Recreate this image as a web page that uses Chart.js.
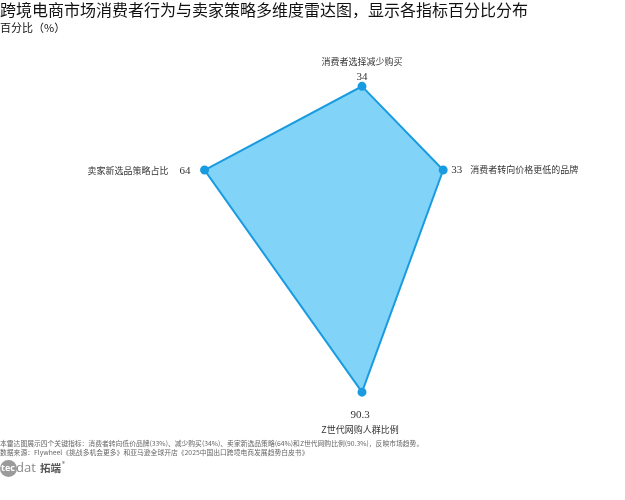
<!DOCTYPE html>
<html>
<head>
<meta charset="utf-8">
<script src="https://cdn.jsdelivr.net/npm/chart.js@4"></script>
<style>
html,body{margin:0;padding:0;background:#fff;overflow:hidden;}
#wrap{position:relative;width:625px;height:500px;overflow:hidden;}
#c{position:absolute;left:0;top:-76px;}
</style>
</head>
<body>
<div id="wrap"><canvas id="c" width="625" height="576"></canvas></div>
<script>
const categories = ['消费者选择减少购买', '消费者转向价格更低的品牌', 'Z世代网购人群比例', '卖家新选品策略占比'];
const values = [34, 33, 90.3, 64];
const valueLabels = ['34', '33', '90.3', '64'];
const titleText = '跨境电商市场消费者行为与卖家策略多维度雷达图，显示各指标百分比分布';
const subtitleText = '百分比（%）';
const noteLines = [
  '本雷达图展示四个关键指标：消费者转向低价品牌(33%)、减少购买(34%)、卖家新选品策略(64%)和Z世代网购比例(90.3%)，反映市场趋势。',
  '数据来源：Flywheel《挑战多机会更多》和亚马逊全球开店《2025中国出口跨境电商发展趋势白皮书》'
];

const CJK = '"Noto Sans CJK SC", "Noto Sans", sans-serif';
const SERIF = '"Liberation Serif", "DejaVu Serif", serif';
const OFF = 76; // canvas is shifted up by this many pixels

// label placement per point: [valueDx, valueDy, valueAlign, catDx, catDy, catAlign]
const labelPlace = [
  [0, -9, 'center', 0, -25, 'center'],
  [8, 0, 'left', 27, 0, 'left'],
  [-2, 23, 'center', -2, 37, 'center'],
  [-14, 1, 'right', -36, 1, 'right']
];

const textPlugin = {
  id: 'texts',
  afterDatasetsDraw(chart) {
    const ctx = chart.ctx;
    const meta = chart.getDatasetMeta(0);
    ctx.save();
    ctx.textBaseline = 'middle';
    meta.data.forEach((pt, i) => {
      const p = labelPlace[i];
      ctx.fillStyle = '#333';
      ctx.font = '11px ' + SERIF;
      ctx.textAlign = p[2];
      ctx.fillText(valueLabels[i], pt.x + p[0], pt.y + p[1]);
      ctx.font = '9px ' + CJK;
      ctx.textAlign = p[5];
      ctx.fillText(categories[i], pt.x + p[3], pt.y + p[4]);
    });
    // title & subtitle
    ctx.textAlign = 'left';
    ctx.fillStyle = '#111';
    ctx.font = '16px ' + CJK;
    ctx.fillText(titleText, 0, OFF + 10);
    ctx.font = '11px ' + CJK;
    ctx.fillText(subtitleText, 0, OFF + 28);
    // notes
    ctx.fillStyle = '#666';
    ctx.font = '6.8px ' + CJK;
    ctx.fillText(noteLines[0], 0, OFF + 443);
    ctx.fillText(noteLines[1], 0, OFF + 452);
    // logo
    ctx.fillStyle = '#9b9b9b';
    ctx.beginPath();
    ctx.arc(8.5, OFF + 468.5, 8.5, 0, Math.PI * 2);
    ctx.fill();
    ctx.fillStyle = '#fff';
    ctx.font = 'bold 9px "Open Sans", sans-serif';
    ctx.fillText('tec', 1, OFF + 468.5);
    ctx.fillStyle = '#8a8a8a';
    ctx.font = '13px "Open Sans", sans-serif';
    ctx.fillText('dat', 16, OFF + 468);
    ctx.fillStyle = '#555';
    ctx.font = 'bold 10.5px ' + CJK;
    ctx.fillText('拓端', 40, OFF + 468);
    ctx.font = '6px ' + CJK;
    ctx.fillText('®', 62, OFF + 464);
    ctx.restore();
  }
};

new Chart(document.getElementById('c'), {
  type: 'radar',
  data: {
    labels: categories,
    datasets: [{
      data: values,
      backgroundColor: '#81D3F8',
      borderColor: '#1A9BE0',
      borderWidth: 2,
      pointBackgroundColor: '#1A9BE0',
      pointBorderColor: '#1A9BE0',
      pointRadius: 3.5,
      pointHoverRadius: 3.5,
      fill: true,
      clip: false,
      tension: 0
    }]
  },
  options: {
    responsive: false,
    animation: false,
    devicePixelRatio: 1,
    events: [],
    layout: { padding: { top: 0, bottom: 84, left: 116, right: 17 } },
    plugins: {
      legend: { display: false },
      title: { display: false },
      tooltip: { enabled: false }
    },
    scales: {
      r: {
        display: true,
        min: 0,
        max: 100,
        grid: { display: false },
        angleLines: { display: false },
        ticks: { display: false },
        pointLabels: { display: false }
      }
    }
  },
  plugins: [textPlugin]
});
</script>
</body>
</html>
